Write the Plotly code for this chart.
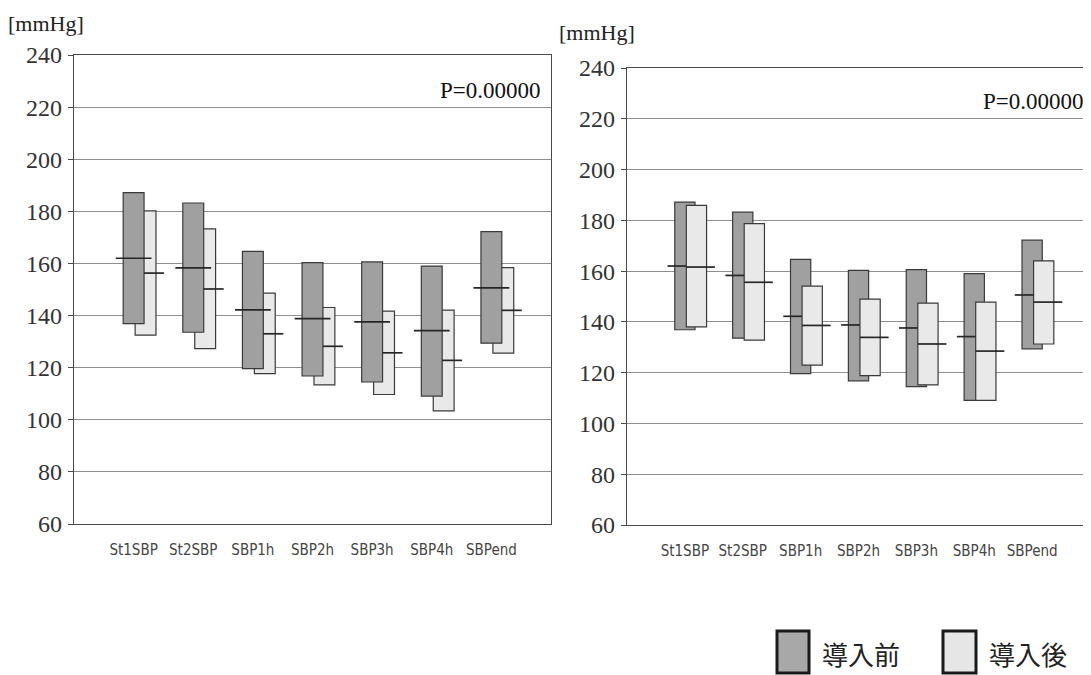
import plotly.graph_objects as go

# ---------------- data ----------------
categories = ["St1SBP", "St2SBP", "SBP1h", "SBP2h", "SBP3h", "SBP4h", "SBPend"]
y_ticks = [60, 80, 100, 120, 140, 160, 180, 200, 220, 240]

# 導入前 (same in both panels): upper edge, lower edge, mean line
pre_high = [187.2, 183.2, 164.6, 160.3, 160.6, 159.0, 172.2]
pre_low = [136.9, 133.6, 119.6, 116.8, 114.5, 109.1, 129.4]
pre_mean = [162.0, 158.3, 142.2, 138.8, 137.6, 134.2, 150.6]

# 導入後, left panel
postL_high = [180.2, 173.3, 148.6, 143.1, 141.7, 142.1, 158.4]
postL_low = [132.5, 127.3, 117.7, 113.4, 109.7, 103.4, 125.6]
postL_mean = [156.3, 150.2, 133.0, 128.2, 125.7, 122.8, 142.0]

# 導入後, right panel
postR_high = [185.9, 178.7, 154.1, 149.0, 147.4, 147.8, 164.0]
postR_low = [138.0, 132.8, 123.0, 118.8, 115.2, 109.1, 131.3]
postR_mean = [161.6, 155.6, 138.6, 133.9, 131.3, 128.5, 147.8]

p_text = "P=0.00000"
unit_text = "[mmHg]"
legend_labels = ["導入前", "導入後"]

# ---------------- styles ----------------
W, H = 1091, 675
OFF = 8            # page body margin of the html page
DARK = "#a0a0a0"
LIGHT = "#e9e9e9"
EDGE = "#3a3a3a"
MEAN_C = "#262626"
BW = 0.35          # box width (category units)
LOFF = 0.2         # light box centre shift
SERIF = "Liberation Serif, Times New Roman, serif"
NARROW = "Liberation Sans Narrow, DejaVu Sans Condensed, Arial Narrow, sans-serif"
CJK = "Noto Sans CJK JP, Noto Sans CJK SC, sans-serif"


def px(x):
    return (x - OFF) / W


def py(y):
    return 1 - (y - OFF) / H


idx = list(range(len(categories)))


def box(high, low, color, center_shift, xa, ya, name):
    return go.Bar(
        x=idx, y=[h - l for h, l in zip(high, low)], base=low,
        width=BW, offset=center_shift - BW / 2,
        marker=dict(color=color, line=dict(color=EDGE, width=1.2)),
        xaxis=xa, yaxis=ya, name=name, showlegend=False, hoverinfo="skip",
    )


def mean_lines(means, a, b, xa, ya):
    xs, ys = [], []
    for i, m in zip(idx, means):
        xs += [i + a, i + b, None]
        ys += [m, m, None]
    return go.Scatter(x=xs, y=ys, mode="lines", line=dict(color=MEAN_C, width=1.7),
                      xaxis=xa, yaxis=ya, showlegend=False, hoverinfo="skip")


fig = go.Figure()
# left panel: light behind dark
fig.add_trace(box(postL_high, postL_low, LIGHT, LOFF, "x", "y", legend_labels[1]))
fig.add_trace(box(pre_high, pre_low, DARK, 0.0, "x", "y", legend_labels[0]))
fig.add_trace(mean_lines(postL_mean, BW / 2, LOFF + 0.31, "x", "y"))
fig.add_trace(mean_lines(pre_mean, -0.3, 0.3, "x", "y"))
# right panel: light in front of dark
fig.add_trace(box(pre_high, pre_low, DARK, 0.0, "x2", "y2", legend_labels[0]))
fig.add_trace(box(postR_high, postR_low, LIGHT, LOFF, "x2", "y2", legend_labels[1]))
fig.add_trace(mean_lines(pre_mean, -0.3, LOFF - BW / 2, "x2", "y2"))
fig.add_trace(mean_lines(postR_mean, LOFF - BW / 2, LOFF + 0.32, "x2", "y2"))

xax = dict(range=[-1, 7], tickvals=idx, ticktext=categories, showgrid=False,
           showline=True, mirror=True, linecolor="#4a4a4a", linewidth=1.4,
           ticks="", ticklabelstandoff=12, automargin=False,
           tickfont=dict(family=NARROW, size=15, color="#444"), zeroline=False)
yax = dict(range=[60, 240], tickvals=y_ticks, showgrid=True, gridcolor="#8e8e8e",
           gridwidth=1, showline=True, mirror=True, linecolor="#4a4a4a", linewidth=1.4,
           ticks="outside", ticklen=5, tickcolor="#4a4a4a", ticklabelstandoff=1,
           automargin=False,
           tickfont=dict(family=SERIF, size=24, color="#333"), zeroline=False)

fig.update_layout(
    template="none",
    width=W, height=H, margin=dict(l=0, r=0, t=0, b=0, autoexpand=False),
    paper_bgcolor="white", plot_bgcolor="white", barmode="overlay",
    xaxis=dict(xax, domain=[px(74), px(551)], anchor="y"),
    yaxis=dict(yax, domain=[py(524), py(55)], anchor="x"),
    xaxis2=dict(xax, domain=[px(627), px(1090)], anchor="y2"),
    yaxis2=dict(yax, domain=[py(525), py(68)], anchor="x2"),
    showlegend=False,
)

ann = []
ann.append(dict(text=unit_text, x=px(6), y=py(24), xref="paper", yref="paper",
                xanchor="left", yanchor="middle", showarrow=False,
                font=dict(family=SERIF, size=22, color="#222")))
ann.append(dict(text=unit_text, x=px(557), y=py(33), xref="paper", yref="paper",
                xanchor="left", yanchor="middle", showarrow=False,
                font=dict(family=SERIF, size=22, color="#222")))
ann.append(dict(text=p_text, x=px(543), y=py(90), xref="paper", yref="paper",
                xanchor="right", yanchor="middle", showarrow=False,
                font=dict(family=SERIF, size=23, color="#111")))
ann.append(dict(text=p_text, x=px(1086), y=py(101), xref="paper", yref="paper",
                xanchor="right", yanchor="middle", showarrow=False,
                font=dict(family=SERIF, size=23, color="#111")))
# legend
for k, (x0, x1, col, lab, tx) in enumerate([(777, 809, "#a8a8a8", legend_labels[0], 820),
                                             (943, 976, "#e6e6e6", legend_labels[1], 987)]):
    fig.add_shape(type="rect", xref="paper", yref="paper",
                  x0=px(x0), x1=px(x1), y0=py(673), y1=py(631),
                  fillcolor=col, line=dict(color="#1a1a1a", width=3))
    ann.append(dict(text=lab, x=px(tx), y=py(653), xref="paper", yref="paper",
                    xanchor="left", yanchor="middle", showarrow=False,
                    font=dict(family=CJK, size=26, color="#222")))
fig.update_layout(annotations=ann)

fig.write_html("out.html")
